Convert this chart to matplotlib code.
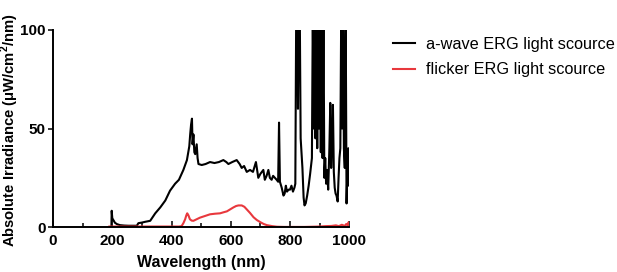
import matplotlib
matplotlib.use("Agg")
import matplotlib.pyplot as plt
from matplotlib.ticker import MultipleLocator

plt.rcParams["font.family"] = ["Liberation Sans", "DejaVu Sans"]
plt.rcParams["mathtext.fontset"] = "custom"
plt.rcParams["mathtext.rm"] = "Liberation Sans"
plt.rcParams["mathtext.bf"] = "Liberation Sans:bold"

# a-wave ERG light source spectrum
awave_nm = [197, 198, 200, 204, 209, 216, 226, 240, 255, 270, 283, 288, 300, 311, 328,
            345, 362, 379, 395, 412, 425, 440, 452, 460, 463, 466, 469, 471, 474, 477,
            480, 485, 488, 491, 502, 515, 530, 545, 560, 575, 585, 592, 605, 620, 630,
            637, 645, 654, 665, 675, 685, 690, 693, 700, 710, 715, 721, 727, 732, 738,
            743, 749, 755, 760, 763, 766, 772, 778, 782, 786, 790, 795, 800, 805, 810,
            815, 818, 821, 824, 827, 829, 833, 836, 838, 842, 846, 849, 853, 858, 863,
            868, 874, 877, 880, 883, 886, 889, 892, 895, 898, 901, 904, 907, 910, 913,
            916, 919, 922, 925, 929, 933, 936, 939, 942, 945, 948, 951, 954, 957, 961,
            964, 967, 970, 973, 976, 979, 982, 985, 988, 991, 994, 997, 999, 1000]
awave_val = [0, 8.3, 4.5, 3.5, 2.2, 1.5, 1.0, 0.8, 0.7, 0.7, 0.7, 2.0, 2.3, 2.7, 3.2,
             7, 10, 13.5, 18.5, 22, 24, 29, 34, 41, 47, 52, 55, 42, 47, 38,
             37, 42, 35, 32, 31.5, 32, 33, 32.5, 33, 34, 33, 32, 33, 34, 32,
             30, 31, 28, 29, 28, 33, 28, 25, 27, 29, 24, 26, 29, 25, 24,
             26, 25, 24, 23, 53, 23, 20, 16, 17, 21, 18, 19, 19, 21, 18,
             20, 22, 110, 110, 60, 110, 110, 45, 40, 30, 15, 11, 12, 16, 21,
             27, 35, 110, 50, 110, 45, 110, 40, 110, 50, 110, 38, 110, 35, 110,
             25, 35, 22, 29, 19, 40, 63, 30, 45, 62, 28, 20, 17, 16, 13,
             25, 35, 40, 110, 50, 110, 40, 30, 110, 12, 30, 40, 21, 32]

# flicker ERG light source spectrum
flicker_nm = [190, 250, 300, 350, 400, 425, 434, 440, 446, 450, 453, 457, 462, 468,
              474, 485, 496, 510, 530, 547, 564, 575, 587, 598, 609, 618, 626, 637,
              646, 654, 665, 677, 688, 700, 711, 722, 740, 756, 780, 800, 850, 900,
              920, 940, 955, 965, 975, 985, 990, 995, 998, 1000]
flicker_val = [0.3, 0.3, 0.3, 0.3, 0.3, 0.3, 0.5, 2, 4, 6, 7, 6, 4, 3.3,
               3.2, 4, 4.8, 5.5, 6.5, 6.8, 7, 7.5, 8, 9, 10, 10.7, 11, 11,
               10.3, 9, 7.2, 5, 3.6, 2.5, 1.6, 1, 0.5, 0.2, 0.1, 0.1, 0.1, 0.3,
               0.5, 0.6, 0.9, 0.5, 1.2, 0.6, 1.6, 0.8, 2.5, 1.0]

fig = plt.figure(figsize=(6.17, 2.72), dpi=100)
ax = fig.add_axes([0.086, 0.165, 0.48, 0.725])

ax.plot(awave_nm, awave_val, color="black", lw=1.5, label="a-wave ERG light scource")
ax.plot(flicker_nm, flicker_val, color="#e8383d", lw=1.5, label="flicker ERG light scource")

ax.set_xlim(0, 1000)
ax.set_ylim(0, 100)
ax.xaxis.set_major_locator(MultipleLocator(200))
ax.xaxis.set_minor_locator(MultipleLocator(100))
ax.yaxis.set_major_locator(MultipleLocator(50))

for side in ("top", "right"):
    ax.spines[side].set_visible(False)
for side in ("left", "bottom"):
    ax.spines[side].set_linewidth(1.4)

ax.tick_params(axis="x", which="major", direction="in", length=4.5, width=1.1,
               labelsize=11, pad=5)
ax.tick_params(axis="x", which="minor", direction="in", length=3, width=1.1)
ax.tick_params(axis="y", direction="out", length=3.5, width=1.1, labelsize=11, pad=2)
for lab in ax.get_xticklabels() + ax.get_yticklabels():
    lab.set_fontweight("bold")

ax.set_xlabel("Wavelength (nm)", fontsize=11.5, fontweight="bold", labelpad=5)
ax.set_ylabel(r"Absolute Irradiance (μW/cm$^{\mathbf{2}}$/nm)", fontsize=10.6,
              fontweight="bold")
ax.yaxis.set_label_coords(-0.108, 0.49)

fig.legend(*ax.get_legend_handles_labels(), loc="upper left",
           bbox_to_anchor=(0.637, 0.865), frameon=False, fontsize=11.7,
           borderpad=0, borderaxespad=0, handlelength=1.35, handletextpad=0.7,
           labelspacing=0.65)

fig.savefig("out.png", dpi=100)
